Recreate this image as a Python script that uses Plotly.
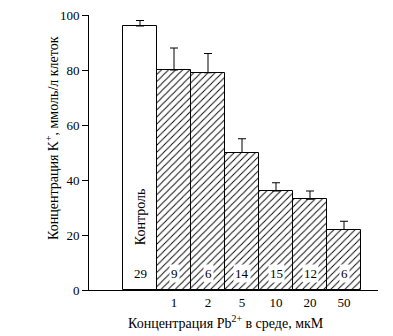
import plotly.graph_objects as go

categories = ["Контроль", "1", "2", "5", "10", "20", "50"]
values = [96, 80, 79, 50, 36, 33, 22]
errors = [2, 8, 7, 5, 3, 3, 3]
n_counts = ["29", "9", "6", "14", "15", "12", "6"]

xpos = list(range(len(categories)))
font = "Liberation Serif"

fig = go.Figure()
fig.add_trace(go.Bar(
    x=xpos, y=values, width=1,
    marker=dict(
        color="white",
        line=dict(color="black", width=1),
        pattern=dict(shape=[""] + ["/"] * 6, fgcolor="black", bgcolor="white",
                     size=5, solidity=0.18, fillmode="replace"),
    ),
    error_y=dict(type="data", symmetric=False, array=errors,
                 arrayminus=[0] * len(errors), color="black", thickness=1, width=4),
    showlegend=False,
))

annotations = []
for i, t in enumerate(n_counts):
    annotations.append(dict(x=xpos[i], y=6, xref="x", yref="y", text=t, showarrow=False,
                            font=dict(family=font, size=13, color="black"),
                            bgcolor="white" if i > 0 else "rgba(0,0,0,0)", borderpad=1))
annotations.append(dict(x=0, y=26.5, xref="x", yref="y", text=categories[0], showarrow=False,
                        textangle=-90, font=dict(family=font, size=14, color="black")))
annotations.append(dict(x=-0.128, y=0.553, xref="paper", yref="paper", xanchor="center",
                        yanchor="middle",
                        text="Концентрация K<sup>+</sup>, ммоль/л клеток", showarrow=False,
                        textangle=-90, font=dict(family=font, size=14, color="black")))
annotations.append(dict(x=0.474, y=-0.116, xref="paper", yref="paper", xanchor="center",
                        yanchor="middle",
                        text="Концентрация Pb<sup>2+</sup> в среде, мкМ", showarrow=False,
                        font=dict(family=font, size=14, color="black")))

fig.update_layout(
    template="none",
    width=393, height=336,
    margin=dict(l=89, r=15, t=15, b=46),
    plot_bgcolor="white", paper_bgcolor="white",
    bargap=0,
    font=dict(family=font, size=13, color="black"),
    annotations=annotations,
    xaxis=dict(range=[-1.5, 7.0], tickvals=xpos[1:], ticktext=categories[1:],
               showline=True, linecolor="black", linewidth=1, ticks="",
               showgrid=False, zeroline=False, automargin=False,
               tickfont=dict(family=font, size=13, color="black")),
    yaxis=dict(range=[0, 100], tickvals=[0, 20, 40, 60, 80, 100],
               showline=True, linecolor="black", linewidth=1, ticks="outside",
               ticklen=6, tickcolor="black", showgrid=False, zeroline=False,
               automargin=False, tickfont=dict(family=font, size=13, color="black")),
)

fig.write_html("out.html", config={"displayModeBar": False},
               post_script="document.body.style.margin='0';document.body.style.overflow='hidden';")
